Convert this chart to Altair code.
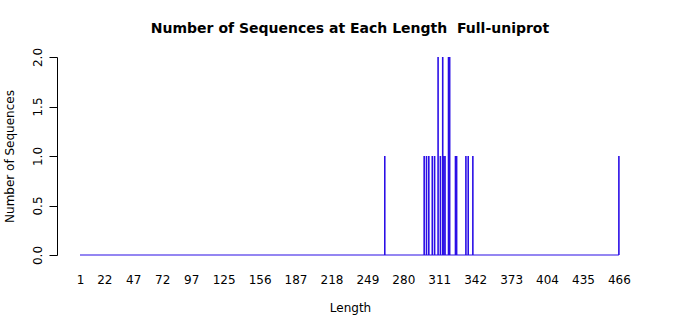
import altair as alt
import pandas as pd

# Sequence lengths observed and how many sequences have each length
lengths = [264, 298, 300, 302, 305, 307, 310, 312, 314, 315, 316, 319, 320, 325, 326, 334, 336, 340, 466]
counts  = [1,   1,   1,   1,   1,   1,   2,   1,   2,   1,   1,   2,   2,   1,   1,   1,   1,   1,   1]

# Tick labels shown under the bars
x_ticks = [1, 22, 47, 72, 97, 125, 156, 187, 218, 249, 280, 311, 342, 373, 404, 435, 466]
y_ticks = [0, 0.5, 1.0, 1.5, 2.0]

# Full span of the length axis (first and last length category)
span_start = [1]
span_end = [466]

bars = pd.DataFrame({"Length": lengths, "Count": counts})
span = pd.DataFrame({"start": span_start, "end": span_end, "zero": [0]})

FONT = "DejaVu Sans"
BLUE = "#2a0ee6"

x_scale = alt.Scale(domain=[-18.8, 486.8], nice=False, zero=False)
y_scale = alt.Scale(domain=[0, 2], nice=False)

x_axis = alt.Axis(
    values=x_ticks, title="Length", grid=False, domain=False, ticks=False, tickSize=0,
    labelPadding=24, labelFontSize=12, labelFont=FONT, labelColor="black",
    labelOverlap=False, labelFlush=False, labelBaseline="middle",
    titleFont=FONT, titleFontSize=12, titleFontWeight="normal", titleColor="black",
    titleY=52, titleBaseline="middle",
)
y_axis = alt.Axis(
    values=y_ticks, format=".1f", title="Number of Sequences", grid=False,
    domain=True, domainColor="black", domainWidth=1,
    ticks=True, tickColor="black", tickSize=8, tickWidth=1,
    labelAngle=-90, labelAlign="center", labelBaseline="alphabetic", labelPadding=8,
    labelFontSize=12, labelFont=FONT, labelColor="black", labelFlush=False, labelOverlap=False,
    titleFont=FONT, titleFontSize=12, titleFontWeight="normal", titleColor="black",
    titleAngle=-90, titleX=-48, titleY=99, titleAlign="center", titleBaseline="middle",
)

baseline = alt.Chart(span).mark_rule(color=BLUE, strokeWidth=1.2).encode(
    x=alt.X("start:Q", scale=x_scale, axis=x_axis),
    x2="end:Q",
    y=alt.Y("zero:Q", scale=y_scale, axis=y_axis),
)

rules = alt.Chart(bars).mark_rule(color=BLUE, strokeWidth=1.6).encode(
    x=alt.X("Length:Q", scale=x_scale, axis=x_axis),
    y=alt.Y("Count:Q", scale=y_scale, axis=y_axis),
    y2=alt.datum(0),
)

chart = alt.layer(baseline, rules).properties(
    width=586,
    height=198,
    background="white",
    title=alt.TitleParams(
        "Number of Sequences at Each Length\u00a0 Full-uniprot",
        font=FONT, fontSize=14, fontWeight="bold", color="black",
        anchor="middle", offset=11,
    ),
    autosize=alt.AutoSizeParams(type="none"),
    padding={"left": 57, "top": 57, "right": 57, "bottom": 60},
).configure_view(strokeWidth=0, stroke=None)

chart.save("out.html", embed_options={"renderer": "svg", "actions": False})
